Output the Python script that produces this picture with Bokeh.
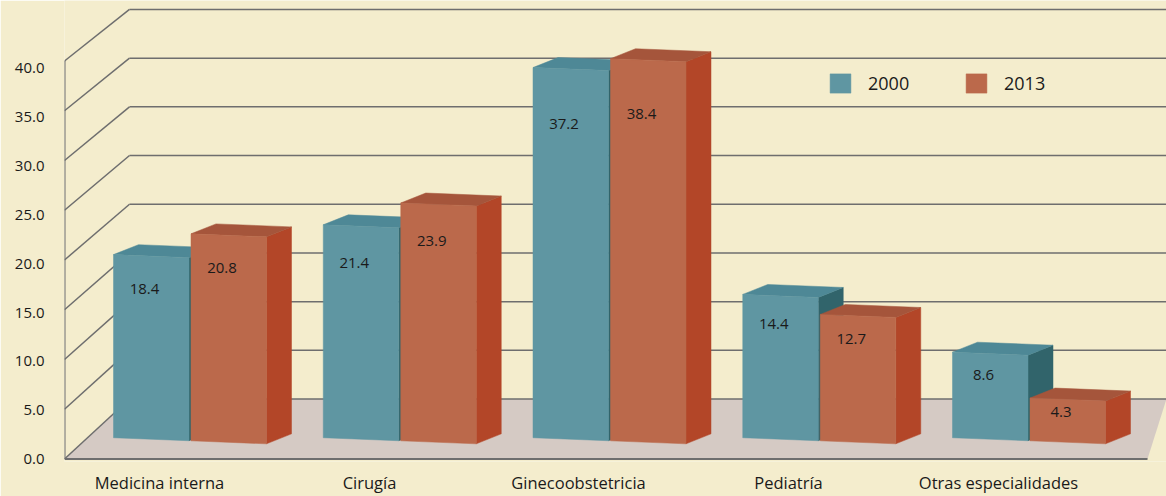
from bokeh.plotting import figure
from bokeh.models import (Range1d, LinearAxis, FixedTicker, Legend, LegendItem)
from bokeh.embed import file_html
from bokeh.resources import INLINE
from bokeh.core.properties import value

# ---------------- data ----------------
categories = ["Medicina interna", "Cirugía", "Ginecoobstetricia", "Pediatría", "Otras especialidades"]
years = ["2000", "2013"]
values_2000 = [18.4, 21.4, 37.2, 14.4, 8.6]
values_2013 = [20.8, 23.9, 38.4, 12.7, 4.3]
y_ticks = [0, 5, 10, 15, 20, 25, 30, 35, 40]
y_tick_labels = ["0.0", "5.0", "10.0", "15.0", "20.0", "25.0", "30.0", "35.0", "40.0"]

# ---------------- style / layout ----------------
BG = "#F4EDCD"
FLOOR = "#D5CAC4"
GRID = "#6E6E6E"
TXT = "#1A1A1A"
FONT = "Open Sans"
FRONT = ["#5F96A2", "#BB694B"]
TOP = ["#4E8896", "#A5553B"]
SIDE = ["#31646B", "#B34628"]

W, H = 1166, 496
ML, MB = 64, 31
frame_h = H - MB
PX_PER_UNIT = 10.0375          # front value scale
LBL_PX_PER_UNIT = 9.85         # tick label spacing
ZERO_UP = 2.5                  # px from frame bottom to value 0

X0 = 64                        # front-left corner (x in px units)
WALL_DX = 65
WALL_B0, WALL_K = 6.027, 0.9788   # back wall projection of values
X_RIGHT = 1170
FLOOR_R = 1147
FLOOR_R_DX = 19

GROUP_START, GROUP_STEP = 113, 209.75
BAR_W, BAR_GAP = 75.5, 2
DEPTH_DX, DEPTH_DY = 25, 1.0
FLOOR_BASE, SKEW = 2.14, 0.004
LABEL_DX = 31
LABEL_K, LABEL_C = 0.88, 0.9
CAT_DX = 46

y_start = -ZERO_UP / PX_PER_UNIT
y_end = y_start + frame_h / PX_PER_UNIT
l_start = -ZERO_UP / LBL_PX_PER_UNIT
l_end = l_start + frame_h / LBL_PX_PER_UNIT

p = figure(width=W, height=H, output_backend="svg", toolbar_location=None,
           x_range=Range1d(X0, X0 + (W - ML)), y_range=Range1d(y_start, y_end),
           x_axis_location=None, y_axis_location=None,
           min_border_left=ML, min_border_right=0, min_border_top=0, min_border_bottom=MB,
           background_fill_color=BG, border_fill_color=BG, outline_line_color=None)
p.grid.visible = False
p.extra_y_ranges = {"lbl": Range1d(l_start, l_end)}

# y axis labels
yax = LinearAxis(y_range_name="lbl", ticker=FixedTicker(ticks=y_ticks),
                 major_label_overrides={t: l for t, l in zip(y_ticks, y_tick_labels)},
                 axis_line_color=None, major_tick_line_color=None, minor_tick_line_color=None,
                 major_tick_out=0, major_tick_in=0, major_label_standoff=20,
                 major_label_text_font=FONT, major_label_text_font_size="15px",
                 major_label_text_color=TXT)
p.add_layout(yax, "left")

# category axis
def group_left(i):
    return GROUP_START + GROUP_STEP * i

cat_ticks = [int(round(group_left(i) + CAT_DX)) for i in range(len(categories))]
xax = LinearAxis(ticker=FixedTicker(ticks=cat_ticks),
                 major_label_overrides={t: c for t, c in zip(cat_ticks, categories)},
                 axis_line_color=None, major_tick_line_color=None, minor_tick_line_color=None,
                 major_tick_out=0, major_tick_in=0, major_label_standoff=9,
                 major_label_text_font=FONT, major_label_text_font_size="16.5px",
                 major_label_text_color=TXT)
p.add_layout(xax, "below")

# floor
p.patch([X0, FLOOR_R, FLOOR_R + FLOOR_R_DX, X0 + WALL_DX], [0, 0, WALL_B0, WALL_B0],
        fill_color=FLOOR, line_color=None)

def back(v):
    return WALL_B0 + WALL_K * v

# back wall grid lines + side diagonals
p.segment(x0=[X0 + WALL_DX] * len(y_ticks), y0=[back(v) for v in y_ticks],
          x1=[X_RIGHT] * len(y_ticks), y1=[back(v) for v in y_ticks],
          line_color=GRID, line_width=1.5)
p.segment(x0=[X0] * len(y_ticks), y0=y_ticks,
          x1=[X0 + WALL_DX] * len(y_ticks), y1=[back(v) for v in y_ticks],
          line_color=GRID, line_width=1.5)
# front axis edge and floor front edge
p.segment(x0=[X0, X0], y0=[0, 0], x1=[X0, FLOOR_R], y1=[y_ticks[-1], 0],
          line_color=GRID, line_width=2)

# bars
series = [values_2000, values_2013]
label_x, label_y, label_t = [], [], []
front_renderers = []
for s, vals in enumerate(series):
    fx, fy, tx, ty, sx, sy = [], [], [], [], [], []
    for i, v in enumerate(vals):
        g = group_left(i)
        xl = g + s * (BAR_W + BAR_GAP)
        xr = xl + BAR_W
        bl = FLOOR_BASE - SKEW * (xl - g)
        br = FLOOR_BASE - SKEW * (xr - g)
        tl, tr = bl + v, br + v
        fx.append([xl, xr, xr, xl]); fy.append([bl, br, tr, tl])
        tx.append([xl, xr, xr + DEPTH_DX, xl + DEPTH_DX]); ty.append([tl, tr, tr + DEPTH_DY, tl + DEPTH_DY])
        sx.append([xr, xr + DEPTH_DX, xr + DEPTH_DX, xr]); sy.append([br, br + DEPTH_DY, tr + DEPTH_DY, tr])
        label_x.append(xl + LABEL_DX); label_y.append(LABEL_K * v + LABEL_C); label_t.append(f"{v:.1f}")
    p.patches(sx, sy, fill_color=SIDE[s], line_color=SIDE[s], line_width=0.5)
    p.patches(tx, ty, fill_color=TOP[s], line_color=TOP[s], line_width=0.5)
    front_renderers.append(p.patches(fx, fy, fill_color=FRONT[s], line_color=FRONT[s], line_width=0.5))

p.text(x=label_x, y=label_y, text=label_t, text_align="center", text_baseline="middle",
       text_font=value(FONT), text_font_size="15px", text_color=TXT)

legend = Legend(items=[LegendItem(label=years[0], renderers=[front_renderers[0]]),
                       LegendItem(label=years[1], renderers=[front_renderers[1]])],
                orientation="horizontal", location=(763, 366),
                padding=0, margin=0, spacing=52, glyph_width=26, glyph_height=24,
                label_standoff=15, label_width=43,
                label_text_font=FONT, label_text_font_size="18px", label_text_color=TXT,
                border_line_alpha=0, background_fill_alpha=0)
p.add_layout(legend)

html = file_html(p, INLINE)
html = html.replace("<body>", '<body style="background-color:%s;">' % BG, 1)
open("out.html", "w").write(html)
